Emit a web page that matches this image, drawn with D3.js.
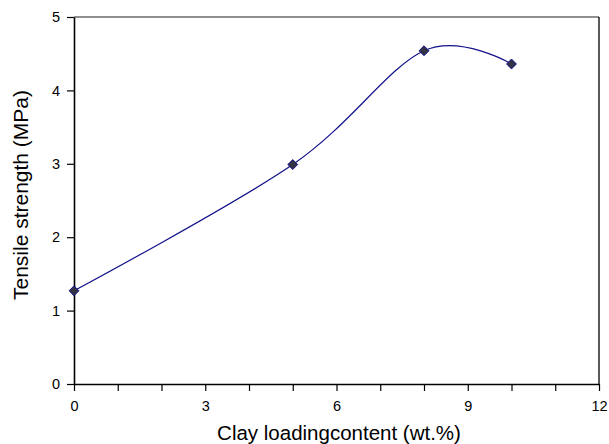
<!DOCTYPE html>
<html><head><meta charset="utf-8">
<script src="https://cdn.jsdelivr.net/npm/d3@7"></script>
<style>body{margin:0;background:#fff}svg{display:block}text{font-family:"Liberation Sans",Arial,sans-serif;fill:#000}</style>
</head><body>
<svg id="c" width="609" height="444"></svg>
<script>
const clayContent = [0, 5, 8, 10];
const tensileStrength = [1.27, 2.99, 4.54, 4.36];
const xTickLabels = [0, 3, 6, 9, 12];
const yTickLabels = [0, 1, 2, 3, 4, 5];

const svg = d3.select("#c");
const L = 74, R = 599, T = 17, B = 384;
const x = d3.scaleLinear().domain([0, 12]).range([L, R]);
const y = d3.scaleLinear().domain([0, 5]).range([B, T]);

// border top (gray) and right
svg.append("line").attr("x1", L).attr("x2", R).attr("y1", T).attr("y2", T).attr("stroke", "#6a6a6a").attr("stroke-width", 1.6);
svg.append("line").attr("x1", R).attr("x2", R).attr("y1", T).attr("y2", B).attr("stroke", "#000").attr("stroke-width", 1.3);

// x axis
const xAx = svg.append("g").attr("transform", `translate(0,${B})`)
  .call(d3.axisBottom(x).tickValues(d3.range(0, 13, 1)).tickSize(7).tickSizeOuter(0)
    .tickFormat(d => xTickLabels.includes(d) ? d : ""));
xAx.select(".domain").attr("stroke", "#000").attr("stroke-width", 1.6);
xAx.selectAll(".tick line").attr("stroke", "#000").attr("stroke-width", 1.2);
xAx.selectAll("text").attr("font-size", 14.5).attr("y", 0).attr("dy", 0)
  .attr("transform", "translate(0,26.5)");

// y axis
const yAx = svg.append("g").attr("transform", `translate(${L},0)`)
  .call(d3.axisLeft(y).tickValues(yTickLabels).tickSize(7).tickSizeOuter(0).tickFormat(d3.format("d")));
yAx.select(".domain").attr("stroke", "#000").attr("stroke-width", 1.6);
yAx.selectAll(".tick line").attr("stroke", "#000").attr("stroke-width", 1.2);
yAx.selectAll("text").attr("font-size", 14.5).attr("x", -14);

// axis titles
svg.append("text").attr("x", 339).attr("y", 440).attr("text-anchor", "middle")
  .attr("font-size", 20.5).text("Clay loadingcontent (wt.%)");
svg.append("text").attr("transform", `translate(28,195) rotate(-90)`).attr("text-anchor", "middle")
  .attr("font-size", 21).text("Tensile strength (MPa)");

// line
const pts = clayContent.map((c, i) => [c, tensileStrength[i]]);
const line = d3.line().x(d => x(d[0])).y(d => y(d[1])).curve(d3.curveCardinal.tension(0));
svg.append("path").datum(pts).attr("d", line).attr("fill", "none").attr("stroke", "#10108a").attr("stroke-width", 1.2);

// markers
svg.selectAll(".m").data(pts).enter().append("path")
  .attr("transform", d => `translate(${x(d[0])},${y(d[1])})`)
  .attr("d", d3.symbol().type(d3.symbolDiamond2).size(62))
  .attr("fill", "#333344").attr("stroke", "#10108a").attr("stroke-width", 1);
</script>
</body></html>
